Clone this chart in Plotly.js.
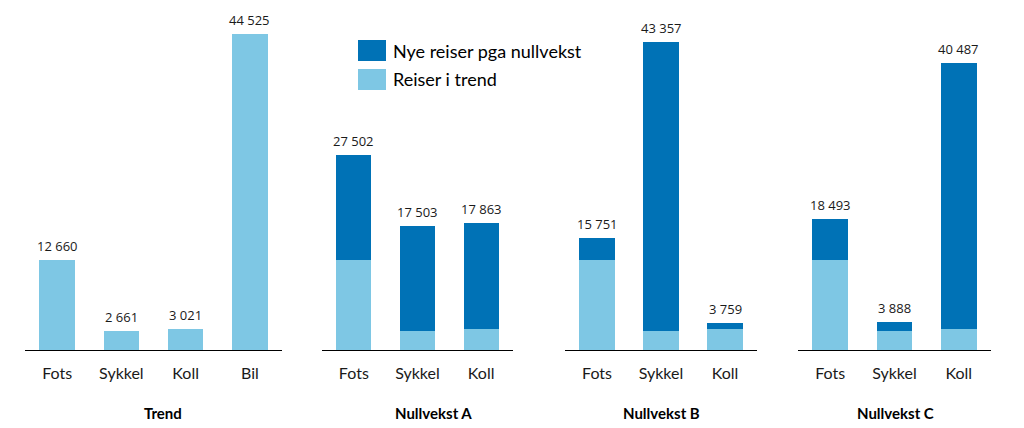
<!DOCTYPE html>
<html>
<head>
<meta charset="utf-8">
<script src="https://cdn.plot.ly/plotly-3.0.1.min.js"></script>
<style>html,body{margin:0;padding:0;background:#fff;}#chart{width:1024px;height:428px;}</style>
</head>
<body>
<div id="chart"></div>
<script>
// ---- data ----
const trendCategories = ['Fots', 'Sykkel', 'Koll', 'Bil'];
const trendValues = [12660, 2661, 3021, 44525];
const scenarioCategories = ['Fots', 'Sykkel', 'Koll'];
const scenarioBase = [12660, 2661, 3021];
const totalsA = [27502, 17503, 17863];
const totalsB = [15751, 43357, 3759];
const totalsC = [18493, 3888, 40487];
const panelTitles = ['Trend', 'Nullvekst A', 'Nullvekst B', 'Nullvekst C'];
const legendLabels = ['Nye reiser pga nullvekst', 'Reiser i trend'];

// ---- style ----
const DARK = '#0072B6';
const LIGHT = '#7EC7E4';
const W = 1024, H = 428;
const fmt = n => String(n).replace(/\B(?=(\d{3})+(?!\d))/g, ' ');

const panelsPx = [[25, 282], [322, 513], [565, 757], [798, 991]];
const titleXPx = [163, 433, 661, 895];
const yBottomPx = 350, yTopPx = 20;
const yDomain = [(H - yBottomPx) / H, (H - yTopPx) / H];
const yMax = 46498;

const traces = [];
const annotations = [];
const layout = {
  width: W, height: H,
  margin: {l: 0, r: 0, t: 0, b: 0},
  paper_bgcolor: '#fff', plot_bgcolor: '#fff',
  barmode: 'stack', bargap: 0.45,
  showlegend: false, hovermode: false,
  font: {family: 'Lato, sans-serif', color: '#000'},
  shapes: [], annotations: annotations
};

function axisNames(i) {
  const s = i === 0 ? '' : String(i + 1);
  return {x: 'x' + s, y: 'y' + s, xa: 'xaxis' + s, ya: 'yaxis' + s};
}

const scenarios = [null, totalsA, totalsB, totalsC];
for (let i = 0; i < 4; i++) {
  const a = axisNames(i);
  const cats = i === 0 ? trendCategories : scenarioCategories;
  const base = i === 0 ? trendValues : scenarioBase;
  const totals = i === 0 ? trendValues : scenarios[i];
  traces.push({type: 'bar', x: cats, y: base, xaxis: a.x, yaxis: a.y,
    marker: {color: LIGHT}, name: legendLabels[1], textposition: 'none'});
  if (i > 0) {
    traces.push({type: 'bar', x: cats, y: totals.map((t, k) => t - base[k]),
      xaxis: a.x, yaxis: a.y, marker: {color: DARK}, name: legendLabels[0], textposition: 'none'});
  }
  cats.forEach((c, k) => {
    annotations.push({xref: a.x, yref: a.y, x: c, y: totals[k], text: fmt(totals[k]),
      showarrow: false, yanchor: 'bottom', yshift: 3,
      font: {family: 'Open Sans, sans-serif', size: 13, color: '#1a1a1a'}});
  });
  layout[a.xa] = {
    domain: [panelsPx[i][0] / W, panelsPx[i][1] / W],
    anchor: a.y, type: 'category',
    range: [-0.5, cats.length - 0.5],
    showline: true, linecolor: '#000', linewidth: 1.3,
    showgrid: false, zeroline: false, ticks: '',
    ticklabelstandoff: 8,
    tickfont: {family: 'Lato, sans-serif', size: 16, color: '#1a1a1a'}
  };
  layout[a.ya] = {
    domain: yDomain, anchor: a.x, range: [0, yMax],
    showgrid: false, zeroline: false, showticklabels: false, showline: false
  };
  annotations.push({xref: 'paper', yref: 'paper', x: titleXPx[i] / W, y: (H - 413) / H,
    text: '<b>' + panelTitles[i] + '</b>', showarrow: false, xanchor: 'center', yanchor: 'middle',
    font: {family: 'Lato, sans-serif', size: 15, color: '#000'}});
}

// custom legend
const legColors = [DARK, LIGHT];
const legY = [[40, 61], [69, 90]];
legendLabels.forEach((lab, k) => {
  layout.shapes.push({type: 'rect', xref: 'paper', yref: 'paper',
    x0: 358 / W, x1: 386 / W, y0: (H - legY[k][1]) / H, y1: (H - legY[k][0]) / H,
    fillcolor: legColors[k], line: {width: 0}});
  annotations.push({xref: 'paper', yref: 'paper', x: 391 / W,
    y: (H - (legY[k][0] + legY[k][1]) / 2) / H, text: lab, showarrow: false,
    xanchor: 'left', yanchor: 'middle',
    font: {family: 'Lato, sans-serif', size: 18, color: '#000'}});
});

Plotly.newPlot('chart', traces, layout, {staticPlot: true, displayModeBar: false});
</script>
</body>
</html>
